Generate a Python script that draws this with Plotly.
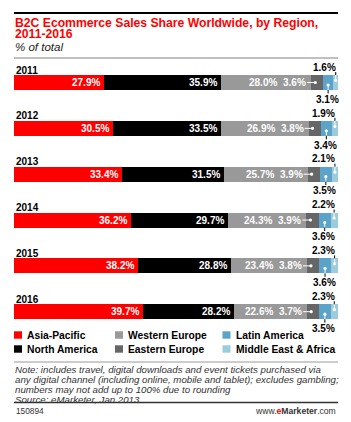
import plotly.graph_objects as go

years = ["2011", "2012", "2013", "2014", "2015", "2016"]
regions = ["Asia-Pacific", "North America", "Western Europe",
           "Eastern Europe", "Latin America", "Middle East & Africa"]
asia_pacific = [27.9, 30.5, 33.4, 36.2, 38.2, 39.7]
north_america = [35.9, 33.5, 31.5, 29.7, 28.8, 28.2]
western_europe = [28.0, 26.9, 25.7, 24.3, 23.4, 22.6]
eastern_europe = [3.6, 3.8, 3.9, 3.9, 3.8, 3.7]
latin_america = [3.1, 3.4, 3.5, 3.6, 3.6, 3.5]
middle_east_africa = [1.6, 1.9, 2.1, 2.2, 2.3, 2.3]

colors = ["#ff0000", "#000000", "#999999", "#666666", "#5ba3c8", "#9ccbdd"]
series = [asia_pacific, north_america, western_europe,
          eastern_europe, latin_america, middle_east_africa]

W, H = 351, 422
FONT = "Liberation Sans"
idx = list(range(len(years)))
BAR_W = 0.327

fig = go.Figure()
for name, vals, col in zip(regions, series, colors):
    fig.add_trace(go.Bar(
        orientation="h", x=vals, y=idx, name=name, width=BAR_W,
        marker=dict(color=col, line=dict(width=0)),
        textposition="none", showlegend=False, hoverinfo="skip",
    ))

def px_y(p):
    return 1 - p / H

def px_x(p):
    return p / W

annotations = []
shapes = []

# header
annotations += [
    dict(text="<b>B2C Ecommerce Sales Share Worldwide, by Region,</b>", x=px_x(14), y=px_y(22.5),
         font=dict(family=FONT, size=12.2, color="#ff0000")),
    dict(text="<b>2011-2016</b>", x=px_x(14), y=px_y(34),
         font=dict(family=FONT, size=12.2, color="#ff0000")),
    dict(text="<i>% of total</i>", x=px_x(14), y=px_y(47),
         font=dict(family=FONT, size=11.5, color="#222222")),
]
for a in annotations:
    a.update(xref="paper", yref="paper", xanchor="left", yanchor="middle", showarrow=False,
             borderpad=0)

shapes += [
    dict(type="line", xref="paper", yref="paper", x0=px_x(14), x1=px_x(338),
         y0=px_y(13), y1=px_y(13), line=dict(color="#000000", width=2)),
    dict(type="line", xref="paper", yref="paper", x0=px_x(14), x1=px_x(338),
         y0=px_y(58), y1=px_y(58), line=dict(color="#c0c0c0", width=2)),
    dict(type="line", xref="paper", yref="paper", x0=px_x(14), x1=px_x(338),
         y0=px_y(362), y1=px_y(362), line=dict(color="#999999", width=1)),
    dict(type="line", xref="paper", yref="paper", x0=px_x(14), x1=px_x(338),
         y0=px_y(402.5), y1=px_y(402.5), line=dict(color="#333333", width=1.5)),
]

def vline(x, i, a, b, col):
    return dict(type="line", xref="x", yref="y", x0=x, x1=x, ysizemode="pixel",
                yanchor=i, y0=a, y1=b, line=dict(color=col, width=1))

def hline(x, i, a, b, col):
    return dict(type="line", xref="x", yref="y", xsizemode="pixel", xanchor=x,
                x0=a, x1=b, ysizemode="pixel", yanchor=i, y0=0, y1=0,
                line=dict(color=col, width=1))

def dot(x, i, off, col, r=1.6):
    return dict(type="circle", xref="x", yref="y", xsizemode="pixel", xanchor=x,
                x0=-r, x1=r, ysizemode="pixel", yanchor=i, y0=off - r, y1=off + r,
                fillcolor=col, line=dict(width=0))

def label(text, x, i, xanchor, xshift, yshift, color):
    return dict(text="<b>%s</b>" % text, xref="x", x=x, xanchor=xanchor, xshift=xshift,
                yref="y", y=i, yshift=yshift, yanchor="middle", showarrow=False,
                font=dict(family=FONT, size=10, color=color))

for i, yr in enumerate(years):
    annotations.append(dict(text="<b>%s</b>" % yr, xref="paper", x=px_x(14), xanchor="left",
                            yref="y", y=i, yshift=12.5, yanchor="middle", showarrow=False,
                            font=dict(family=FONT, size=10, color="#000000")))
    end_ap = asia_pacific[i]
    end_na = end_ap + north_america[i]
    start_ee = end_na + western_europe[i]
    start_la = start_ee + eastern_europe[i]
    start_me = start_la + latin_america[i]
    x_ee = start_ee + eastern_europe[i] * 0.33
    x_la = start_la + latin_america[i] / 2
    x_me = start_me + middle_east_africa[i] / 2

    annotations.append(label("%.1f%%" % asia_pacific[i], end_ap, i, "right", -2, 0, "white"))
    annotations.append(label("%.1f%%" % north_america[i], end_na, i, "right", -2, 0, "white"))
    annotations.append(label("%.1f%%" % western_europe[i], x_ee, i, "right", -36, 0, "white"))

    # Eastern Europe: label left, white leader
    annotations.append(label("%.1f%%" % eastern_europe[i], x_ee, i, "right", -7, 0, "white"))
    shapes.append(hline(x_ee, i, -8, 0, "white"))
    shapes.append(dot(x_ee, i, 0, "white"))

    # Latin America: label below
    annotations.append(label("%.1f%%" % latin_america[i], x_la, i, "center", -1, -16.8, "#000000"))
    shapes.append(vline(x_la, i, -2.5, -7.5, "white"))
    shapes.append(vline(x_la, i, -7.5, -11, "#000000"))
    shapes.append(dot(x_la, i, -2.5, "white"))

    # Middle East & Africa: label above
    annotations.append(label("%.1f%%" % middle_east_africa[i], x_me, i, "right", 2.5, 15.3, "#000000"))
    shapes.append(vline(x_me, i, 2, 7.5, "white"))
    shapes.append(vline(x_me, i, 7.5, 10.5, "#000000"))
    shapes.append(dot(x_me, i, 2, "white"))

# legend (manual)
leg_pos = {
    "Asia-Pacific": (14, 335), "Western Europe": (115, 335), "Latin America": (222.5, 335),
    "North America": (14, 349), "Eastern Europe": (115, 349), "Middle East & Africa": (222.5, 349),
}
for name, col in zip(regions, colors):
    lx, ly = leg_pos[name]
    shapes.append(dict(type="rect", xref="paper", yref="paper", x0=px_x(lx), x1=px_x(lx + 8),
                       y0=px_y(ly - 3.7), y1=px_y(ly + 3.7), fillcolor=col, line=dict(width=0)))
    annotations.append(dict(text="<b>%s</b>" % name, xref="paper", yref="paper",
                            x=px_x(lx + 11), y=px_y(ly), xanchor="left", yanchor="middle",
                            showarrow=False, font=dict(family=FONT, size=10.3, color="#000000")))

notes = [
    "Note: includes travel, digital downloads and event tickets purchased via",
    "any digital channel (including online, mobile and tablet); excludes gambling;",
    "numbers may not add up to 100% due to rounding",
    "Source: eMarketer, Jan 2013",
]
for j, line in enumerate(notes):
    annotations.append(dict(text="<i>%s</i>" % line, xref="paper", yref="paper",
                            x=px_x(14), y=px_y(369.5 + 10 * j), xanchor="left", yanchor="middle",
                            showarrow=False, borderpad=0,
                            font=dict(family=FONT, size=9.7, color="#333333")))

annotations.append(dict(text="150894", xref="paper", yref="paper", x=px_x(14), y=px_y(411),
                        xanchor="left", yanchor="middle", showarrow=False,
                        font=dict(family=FONT, size=8.3, color="#333333")))
annotations.append(dict(text="www.<b><span style='color:#ff0000'>e</span>Marketer</b>.com",
                        xref="paper", yref="paper", x=px_x(338), y=px_y(411),
                        xanchor="right", yanchor="middle", showarrow=False,
                        font=dict(family=FONT, size=8.6, color="#333333")))

SP = 45.84
TOP = 82.5
fig.update_layout(
    width=W, height=H, margin=dict(l=0, r=0, t=0, b=0),
    paper_bgcolor="white", plot_bgcolor="white",
    barmode="stack", showlegend=False,
    xaxis=dict(domain=[px_x(14), px_x(338)], range=[0, 100], visible=False, fixedrange=True),
    yaxis=dict(domain=[0, 1], range=[(H - TOP) / SP, -TOP / SP], visible=False, fixedrange=True),
    annotations=annotations, shapes=shapes,
)

fig.write_html("out.html")
